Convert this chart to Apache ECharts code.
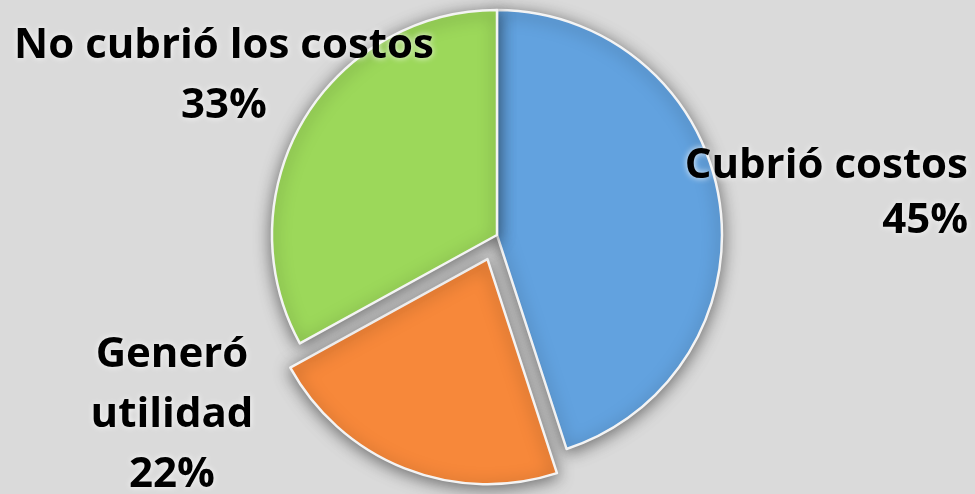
<!DOCTYPE html>
<html>
<head>
<meta charset="utf-8">
<script src="https://cdn.jsdelivr.net/npm/echarts@6/dist/echarts.min.js"></script>
<style>
  html, body { margin: 0; padding: 0; background: #dadada; }
  #chart { width: 975px; height: 494px; }
</style>
</head>
<body>
<div id="chart"></div>
<script>
// datos del grafico
var categories = ['Cubrió costos', 'Generó utilidad', 'No cubrió los costos'];
var labelText = ['Cubrió costos', 'Generó\nutilidad', 'No cubrió los costos'];
var values = [45, 22, 33];
var colors = ['#62a2df', '#f7883a', '#9cd85a'];

// posicion de cada etiqueta (x, y, alineacion)
var labelPos = [
    { x: 968, y: 139, align: 'right', lh: 55 },
    { x: 172, y: 325, align: 'center', lh: 60 },
    { x: 224, y: 16, align: 'center', lh: 60 }
];

var myChart = echarts.init(document.getElementById('chart'));

var sectors = [];
var labels = [];
for (var i = 0; i < categories.length; i++) {
    sectors.push({
        name: categories[i],
        value: values[i],
        selected: i == 1, // la porcion naranja va separada
        itemStyle: { color: colors[i] }
    });
    labels.push({
        name: categories[i],
        value: values[i],
        label: { lineHeight: labelPos[i].lh }
    });
}

var option = {
    backgroundColor: '#dadada',
    animation: false,
    series: [{
        // porciones
        type: 'pie',
        center: [497, 235],
        radius: 225,
        startAngle: 90,
        clockwise: true,
        selectedMode: 'single',
        selectedOffset: 26,
        data: sectors,
        itemStyle: {
            borderColor: '#f4f4f4',
            borderWidth: 2.5,
            shadowBlur: 16,
            shadowColor: 'rgba(0,0,0,0.5)',
            shadowOffsetX: 0,
            shadowOffsetY: 3
        },
        label: { show: false },
        labelLine: { show: false },
        emphasis: { disabled: true }
    }, {
        // solo etiquetas (porciones transparentes)
        type: 'pie',
        center: [497, 235],
        radius: 225,
        startAngle: 90,
        clockwise: true,
        silent: true,
        data: labels,
        itemStyle: { color: 'rgba(0,0,0,0)' },
        label: {
            show: true,
            position: 'inside',
            overflow: 'none',
            formatter: function (p) {
                return labelText[p.dataIndex] + '\n' + p.percent + '%';
            },
            fontFamily: 'Open Sans',
            fontWeight: 'bold',
            fontSize: 42,
            color: '#000',
            textShadowColor: 'rgba(255,255,255,0.9)',
            textShadowBlur: 6
        },
        labelLine: { show: false },
        labelLayout: function (params) {
            var p = labelPos[params.dataIndex];
            return {
                x: p.x,
                y: p.y,
                align: p.align,
                verticalAlign: 'top'
            };
        },
        emphasis: { disabled: true }
    }]
};

myChart.setOption(option);
</script>
</body>
</html>
